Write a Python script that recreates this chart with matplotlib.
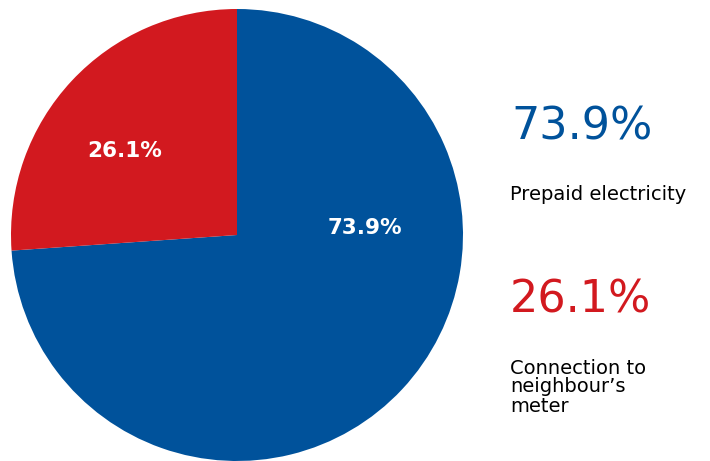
import matplotlib
matplotlib.use("Agg")
import matplotlib.pyplot as plt

categories = ["Prepaid electricity", "Connection to\nneighbour\u2019s\nmeter"]
values = [73.9, 26.1]
labels = ["73.9%", "26.1%"]
colors = ["#00529B", "#D2191F"]

plt.rcParams['font.family'] = ['DejaVu Sans']

fig = plt.figure(figsize=(7.10, 4.61), dpi=100)
ax = fig.add_axes([11/710, 0, 452/710, 452/461])
wedges, _ = ax.pie(values, colors=colors, startangle=90, counterclock=False,
                   radius=1.0, wedgeprops=dict(linewidth=0))
ax.set_xlim(-1, 1)
ax.set_ylim(-1, 1)
ax.set_aspect('equal')
ax.axis('off')

def px2data(px, py):
    cx, cy, r = 237, 235, 226
    return (px - cx) / r, (cy - py) / r

for lab, (px, py) in zip(labels, [(365, 228), (125, 151)]):
    x, y = px2data(px, py)
    ax.text(x, y, lab, color="white", fontsize=15.5, fontweight="bold",
            ha="center", va="center")

fig.text(511/710, 1 - 127/461, labels[0], color=colors[0], fontsize=32,
         ha="left", va="center")
fig.text(510/710, 1 - 194/461, categories[0], color="black", fontsize=14,
         ha="left", va="center")
fig.text(510/710, 1 - 300/461, labels[1], color=colors[1], fontsize=32,
         ha="left", va="center")
fig.text(510/710, 1 - 387/461, categories[1], color="black", fontsize=14,
         ha="left", va="center", linespacing=1.0)

fig.savefig("out.png", dpi=100, facecolor="white")
